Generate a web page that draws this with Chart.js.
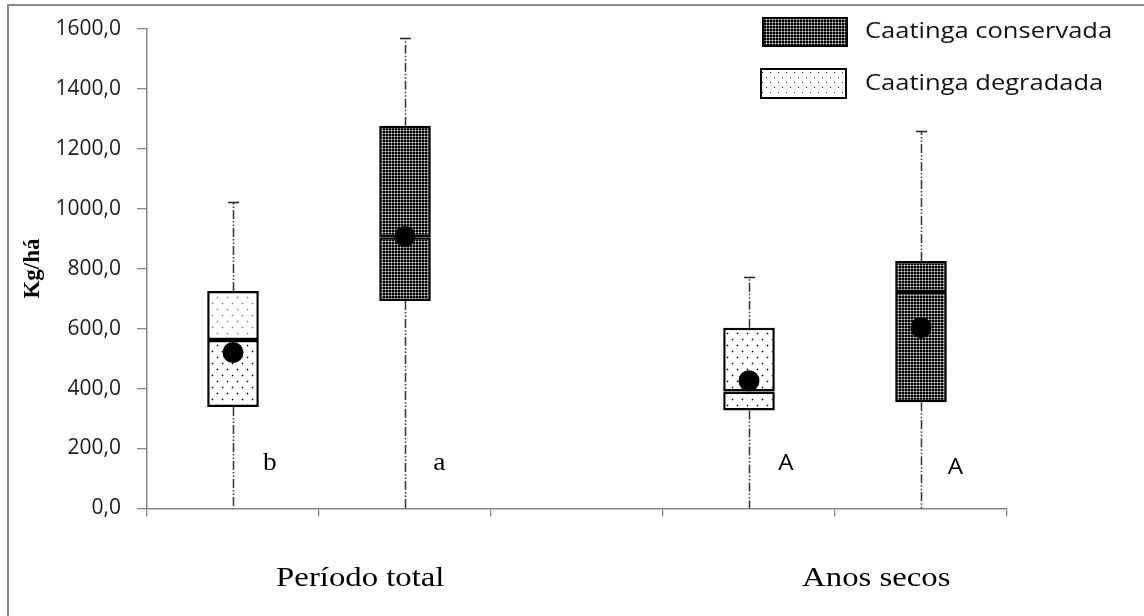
<!DOCTYPE html>
<html>
<head>
<meta charset="utf-8">
<script src="https://cdn.jsdelivr.net/npm/chart.js@4.4.1/dist/chart.umd.min.js"></script>
<style>
  html, body { margin: 0; padding: 0; background: #fff; }
  #wrap { position: relative; width: 1144px; height: 616px; }
</style>
</head>
<body>
<div id="wrap"><canvas id="c" width="1144" height="616"></canvas></div>
<script>
// Groups on the x axis and the two series compared inside each group
const groups = ['Período total', 'Anos secos'];
const seriesNames = ['Caatinga conservada', 'Caatinga degradada'];

// Caatinga degradada box statistics (kg/ha), one value per group
const degMin = [0, 0];
const degQ1 = [338, 327];
const degMedian = [562, 390];
const degQ3 = [725, 603];
const degMax = [1021, 773];
const degMean = [520, 426];
const degLetters = ['b', 'A'];

// Caatinga conservada box statistics (kg/ha), one value per group
const consMin = [0, 0];
const consQ1 = [692, 354];
const consMedian = [904, 722];
const consQ3 = [1276, 825];
const consMax = [1568, 1259];
const consMean = [907, 603];
const consLetters = ['a', 'A'];

// Y axis ticks
const yTicks = [0, 200, 400, 600, 800, 1000, 1200, 1400, 1600];

// Slot layout: each group holds [degradada, conservada] followed by an empty slot
const slotsPerGroup = 3;
const slotLabels = [];
groups.forEach((g, i) => {
  slotLabels.push(g + ' – degradada', g + ' – conservada');
  if (i < groups.length - 1) slotLabels.push('');
});
const slotOf = (g, s) => g * slotsPerGroup + s; // s: 0 degradada, 1 conservada

function fillSlots(arrDeg, arrCons, fn) {
  const out = slotLabels.map(() => null);
  groups.forEach((_, g) => {
    if (arrDeg) out[slotOf(g, 0)] = fn(arrDeg, g);
    if (arrCons) out[slotOf(g, 1)] = fn(arrCons, g);
  });
  return out;
}

// Fill patterns
function makePattern(w, h, bg, draw) {
  const c = document.createElement('canvas');
  c.width = w; c.height = h;
  const x = c.getContext('2d');
  x.fillStyle = bg; x.fillRect(0, 0, w, h);
  draw(x);
  return x.createPattern(c, 'repeat');
}
const darkPattern = makePattern(3, 3, '#000', x => {
  x.fillStyle = '#6a6a6a';
  x.fillRect(0, 1, 3, 1); x.fillRect(1, 0, 1, 3);
  x.fillStyle = '#e4e4e4'; x.fillRect(1, 1, 1, 1);
});
function dotPattern(core, halo) {
  return makePattern(10, 12, '#fff', x => {
    [[2, 3], [7, 9]].forEach(([px, py]) => {
      x.fillStyle = halo;
      x.fillRect(px - 1, py, 3, 1); x.fillRect(px, py - 1, 1, 3);
      x.fillStyle = core; x.fillRect(px, py, 1, 1);
    });
  });
}
const dotBlack = dotPattern('#000', '#b8b8b8');
const dotBlue = dotPattern('#5f86cf', '#d4def2');
const legendDots = makePattern(8, 10, '#fff', x => {
  x.fillStyle = '#333';
  x.fillRect(2, 2, 1, 1);
  x.fillRect(6, 7, 1, 1);
});

const one = (arr, g) => arr[g];

// Box halves as floating bars: lower (Q1 → median) and upper (median → Q3)
const degLower = fillSlots(degQ1, null, (a, g) => [degQ1[g], degMedian[g]]);
const degUpper = fillSlots(degQ1, null, (a, g) => [degMedian[g], degQ3[g]]);
const consLower = fillSlots(null, consQ1, (a, g) => [consQ1[g], consMedian[g]]);
const consUpper = fillSlots(null, consQ1, (a, g) => [consMedian[g], consQ3[g]]);
const meanData = fillSlots(degMean, consMean, one);

const degUpperFill = slotLabels.map((_, i) => (i === slotOf(0, 0) ? dotBlue : dotBlack));

const boxCommon = {
  type: 'bar',
  grouped: false,
  borderColor: '#000',
  borderWidth: 2.5,
  borderSkipped: false,
  barPercentage: 0.3,
  categoryPercentage: 1,
  order: 2
};

// Whiskers with dash-dot lines and caps, drawn behind the boxes
const whiskerPlugin = {
  id: 'whiskers',
  beforeDatasetsDraw(chart) {
    const { ctx } = chart;
    const xs = chart.scales.x, ys = chart.scales.y;
    const draw = (slot, lo, q1, q3, hi) => {
      const cx = Math.round(xs.getPixelForValue(slot)) + 0.5;
      ctx.save();
      ctx.strokeStyle = '#3c3c3c';
      ctx.lineWidth = 1.6;
      ctx.setLineDash([9, 2, 1.5, 2, 1.5, 2]);
      ctx.beginPath();
      ctx.moveTo(cx, ys.getPixelForValue(q3));
      ctx.lineTo(cx, ys.getPixelForValue(hi));
      ctx.moveTo(cx, ys.getPixelForValue(q1));
      ctx.lineTo(cx, ys.getPixelForValue(lo));
      ctx.stroke();
      ctx.setLineDash([]);
      ctx.strokeStyle = '#222';
      ctx.lineWidth = 1.5;
      const yh = Math.round(ys.getPixelForValue(hi)) + 0.5;
      ctx.beginPath();
      ctx.moveTo(cx - 5.5, yh); ctx.lineTo(cx + 5.5, yh);
      ctx.stroke();
      ctx.restore();
    };
    groups.forEach((_, g) => {
      draw(slotOf(g, 0), degMin[g], degQ1[g], degQ3[g], degMax[g]);
      draw(slotOf(g, 1), consMin[g], consQ1[g], consQ3[g], consMax[g]);
    });
  }
};

// Text drawn slightly widened, as in the printed figure
function wideText(ctx, text, x, y, sx, align) {
  ctx.save();
  ctx.translate(x, y);
  ctx.scale(sx, 1);
  ctx.textAlign = align;
  ctx.fillText(text, 0, 0);
  ctx.restore();
}

// Letters of the mean comparison, group labels, legend and frame
const annotationPlugin = {
  id: 'annotations',
  afterDraw(chart) {
    const { ctx } = chart;
    const xs = chart.scales.x, ys = chart.scales.y;
    const slotW = xs.getPixelForValue(1) - xs.getPixelForValue(0);
    ctx.save();
    // frame
    ctx.strokeStyle = '#8a8a8a';
    ctx.lineWidth = 2;
    ctx.beginPath();
    ctx.moveTo(8, 616); ctx.lineTo(8, 5); ctx.lineTo(1144, 5);
    ctx.stroke();

    // comparison letters
    ctx.fillStyle = '#000';
    ctx.textBaseline = 'middle';
    groups.forEach((_, g) => {
      const serif = g === 0;
      ctx.font = serif ? '25px "Liberation Serif"' : '22px "Open Sans"';
      const yl = ys.getPixelForValue(150);
      wideText(ctx, degLetters[g], xs.getPixelForValue(slotOf(g, 0)) + slotW * 0.215, yl, 1.1, 'center');
      wideText(ctx, consLetters[g], xs.getPixelForValue(slotOf(g, 1)) + slotW * 0.2, yl + (serif ? 0 : 4), 1.1, 'center');
    });

    // group labels under the axis
    ctx.font = '28px "Liberation Serif"';
    groups.forEach((name, g) => {
      const mid = (xs.getPixelForValue(slotOf(g, 0)) + xs.getPixelForValue(slotOf(g, 1))) / 2;
      wideText(ctx, name, mid + slotW * 0.24, 579, 1.17, 'center');
    });

    // legend
    const entries = [
      { label: seriesNames[0], fill: darkPattern, box: [763, 18, 84, 28] },
      { label: seriesNames[1], fill: legendDots, box: [761, 69, 85, 29] }
    ];
    ctx.font = '22px "Open Sans"';
    entries.forEach(e => {
      const [bx, by, bw, bh] = e.box;
      ctx.fillStyle = e.fill;
      ctx.fillRect(bx, by, bw, bh);
      ctx.strokeStyle = '#000';
      ctx.lineWidth = 2;
      ctx.strokeRect(bx, by, bw, bh);
      ctx.fillStyle = '#111';
      wideText(ctx, e.label, 865, by + bh / 2, 1.16, 'left');
    });
    ctx.restore();
  }
};

new Chart(document.getElementById('c'), {
  data: {
    labels: slotLabels,
    datasets: [
      { ...boxCommon, label: seriesNames[1] + ' (Q1–mediana)', data: degLower, backgroundColor: dotBlack },
      { ...boxCommon, label: seriesNames[1] + ' (mediana–Q3)', data: degUpper, backgroundColor: degUpperFill },
      { ...boxCommon, label: seriesNames[0] + ' (Q1–mediana)', data: consLower, backgroundColor: darkPattern },
      { ...boxCommon, label: seriesNames[0] + ' (mediana–Q3)', data: consUpper, backgroundColor: darkPattern },
      {
        type: 'line',
        label: 'Média',
        data: meanData,
        showLine: false,
        pointRadius: 10.5,
        pointHoverRadius: 10.5,
        pointBackgroundColor: '#000',
        pointBorderWidth: 0,
        order: 0
      }
    ]
  },
  options: {
    responsive: false,
    animation: false,
    devicePixelRatio: 1,
    layout: { padding: { left: 0, right: 137, top: 26, bottom: 0 } },
    plugins: { legend: { display: false }, tooltip: { enabled: false } },
    scales: {
      x: {
        type: 'category',
        offset: true,
        grid: { offset: true, drawOnChartArea: false, drawTicks: true, tickLength: 8, color: '#868686', lineWidth: 1.3 },
        border: { display: true, color: '#868686', width: 1.5 },
        ticks: { display: false },
        afterFit(s) { s.height = 107.5; }
      },
      y: {
        min: 0,
        max: 1600,
        afterBuildTicks(s) { s.ticks = yTicks.map(v => ({ value: v })); },
        grid: { drawOnChartArea: false, drawTicks: true, tickLength: 10, color: '#868686', lineWidth: 1.3 },
        border: { display: true, color: '#868686', width: 1.5 },
        ticks: {
          padding: 16,
          color: '#1a1a1a',
          font: { family: '"Open Sans"', size: 21 },
          callback: v => Number(v).toFixed(1).replace('.', ',')
        },
        title: {
          display: true,
          text: 'Kg/há',
          color: '#000',
          font: { family: '"Liberation Serif"', size: 23, weight: 'bold' },
          padding: { top: 19, bottom: 0 }
        },
        afterFit(s) { s.width = 147; }
      }
    }
  },
  plugins: [whiskerPlugin, annotationPlugin]
});
</script>
</body>
</html>
